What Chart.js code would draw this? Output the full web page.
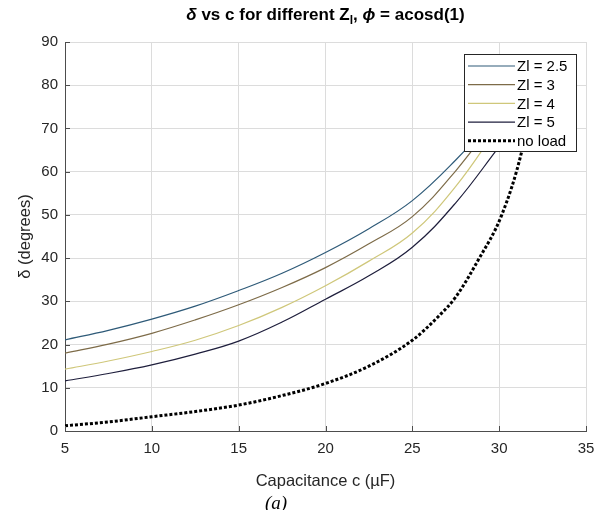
<!DOCTYPE html>
<html>
<head>
<meta charset="utf-8">
<script src="https://cdn.jsdelivr.net/npm/chart.js@4.4.1/dist/chart.umd.min.js"></script>
<style>
body { margin: 0; background: #fff; }
#wrap { position: relative; width: 605px; height: 510px; font-family: "Liberation Sans", Arial, sans-serif; }
#title { position: absolute; left: 45px; width: 561px; top: 5px; line-height: 20px; text-align: center; font-weight: bold; font-size: 17px; color: #000; }
#title sub { font-size: 12px; line-height: 0; }
#caption { position: absolute; left: 246px; width: 60px; top: 492px; line-height: 21px; text-align: center; font-family: "Liberation Serif", "Times New Roman", serif; font-style: italic; font-size: 19px; color: #000; }
</style>
</head>
<body>
<div id="wrap">
  <canvas id="deltaChart" width="605" height="510"></canvas>
  <div id="title"><i>δ</i> vs c for different Z<sub>l</sub>, <i>ϕ</i> = acosd(1)</div>
  <div id="caption">(a)</div>
</div>
<script>
// capacitance points (uF) read for the loaded curves
const capLoad = [5, 7.5, 10, 12.5, 15, 17.5, 20, 22.5, 25, 27.5, 30];
const deltaZl25 = [21.1, 23.3, 25.9, 28.9, 32.5, 36.5, 41.3, 46.8, 53.3, 62.7, 73.8];
const deltaZl3 = [18.0, 20.1, 22.6, 25.7, 29.2, 33.2, 37.8, 43.3, 49.6, 60.2, 73.3];
const deltaZl4 = [14.3, 16.2, 18.4, 21.0, 24.4, 28.6, 33.6, 39.3, 45.8, 56.6, 70.7];
const deltaZl5 = [11.6, 13.3, 15.3, 17.8, 20.8, 25.2, 30.5, 35.9, 42.5, 52.8, 65.8];

// no load curve
const capNoLoad = [5, 7.5, 10, 12.5, 15, 17.5, 20, 22.5, 25, 26.5, 27.5, 28.8, 30.15, 31.3, 31.8, 32.2];
const deltaNoLoad = [1.2, 2.1, 3.3, 4.5, 6.0, 8.2, 11.0, 15.0, 21.0, 26.5, 31.0, 39.6, 50.0, 64.7, 75.0, 85.0];

const xTicks = [5, 10, 15, 20, 25, 30, 35];
const yTicks = [0, 10, 20, 30, 40, 50, 60, 70, 80, 90];

const seriesNames = ['Zl = 2.5', 'Zl = 3', 'Zl = 4', 'Zl = 5', 'no load'];
const seriesColors = ['#2e5a78', '#7d6b48', '#cfc77a', '#1e1e3c', '#000000'];

const toPoints = (xs, ys) => xs.map((c, i) => ({ x: c, y: ys[i] }));

const loaded = [deltaZl25, deltaZl3, deltaZl4, deltaZl5];
const datasets = loaded.map((ys, i) => ({
    label: seriesNames[i],
    data: toPoints(capLoad, ys),
    borderColor: seriesColors[i],
    borderWidth: 1.2,
    pointRadius: 0,
    tension: 0.4,
    fill: false
}));
datasets.push({
    label: seriesNames[4],
    data: toPoints(capNoLoad, deltaNoLoad),
    borderColor: seriesColors[4],
    borderWidth: 3,
    borderDash: [3, 2],
    pointRadius: 0,
    cubicInterpolationMode: 'monotone',
    fill: false
});

const textColor = '#262626';
const tickFont = { family: '"Liberation Sans", Arial, sans-serif', size: 15 };
const labelFont = { family: '"Liberation Sans", Arial, sans-serif', size: 16.5 };

// inward tick marks and a boxed legend inside the plot (MATLAB style)
const overlay = {
    id: 'overlay',
    afterDatasetsDraw(chart) {
        const ctx = chart.ctx;
        const xs = chart.scales.x, ys = chart.scales.y;
        ctx.save();
        ctx.strokeStyle = '#4d4d4d';
        ctx.lineWidth = 1;
        xs.ticks.forEach(t => {
            const px = Math.round(xs.getPixelForValue(t.value)) + 0.5;
            ctx.beginPath();
            ctx.moveTo(px, ys.bottom);
            ctx.lineTo(px, ys.bottom - 5);
            ctx.stroke();
        });
        ys.ticks.forEach(t => {
            const py = Math.round(ys.getPixelForValue(t.value)) + 0.5;
            ctx.beginPath();
            ctx.moveTo(xs.left, py);
            ctx.lineTo(xs.left + 5, py);
            ctx.stroke();
        });

        // legend box
        const bx = 464, by = 54, bw = 112, bh = 97;
        ctx.fillStyle = '#fff';
        ctx.fillRect(bx, by, bw, bh);
        ctx.strokeStyle = '#262626';
        ctx.strokeRect(bx + 0.5, by + 0.5, bw, bh);
        ctx.font = '15px "Liberation Sans", Arial, sans-serif';
        ctx.textBaseline = 'middle';
        ctx.fillStyle = '#000';
        chart.data.datasets.forEach((ds, i) => {
            const yy = by + 12 + i * 18.7;
            ctx.strokeStyle = ds.borderColor;
            ctx.lineWidth = ds.borderWidth;
            ctx.setLineDash(ds.borderDash || []);
            ctx.beginPath();
            ctx.moveTo(bx + 4, yy);
            ctx.lineTo(bx + 51, yy);
            ctx.stroke();
            ctx.setLineDash([]);
            ctx.fillText(ds.label, bx + 53, yy + 1);
        });
        ctx.restore();
    }
};

new Chart(document.getElementById('deltaChart'), {
    type: 'line',
    data: { datasets },
    options: {
        responsive: false,
        animation: false,
        layout: { padding: { top: 42, right: 19, bottom: 0, left: 0 } },
        plugins: {
            legend: { display: false },
            tooltip: { enabled: false }
        },
        scales: {
            x: {
                type: 'linear',
                min: 5,
                max: 35,
                afterBuildTicks: s => { s.ticks = xTicks.map(v => ({ value: v })); },
                afterFit: s => { s.height = 79; },
                grid: { color: '#dcdcdc', drawTicks: false },
                border: { color: '#4d4d4d', width: 1 },
                ticks: { color: textColor, font: tickFont, padding: 9, maxRotation: 0 },
                title: {
                    display: true,
                    text: 'Capacitance c (µF)',
                    color: textColor,
                    font: labelFont,
                    padding: { top: 0, bottom: 19 }
                }
            },
            y: {
                min: 0,
                max: 90,
                afterBuildTicks: s => { s.ticks = yTicks.map(v => ({ value: v })); },
                afterFit: s => { s.width = 65; },
                grid: { color: '#dcdcdc', drawTicks: false },
                border: { color: '#4d4d4d', width: 1 },
                ticks: { color: textColor, font: tickFont, padding: 7 },
                title: {
                    display: true,
                    text: 'δ (degrees)',
                    color: textColor,
                    font: labelFont,
                    padding: { top: 16, bottom: 0 }
                }
            }
        }
    },
    plugins: [overlay]
});
</script>
</body>
</html>
